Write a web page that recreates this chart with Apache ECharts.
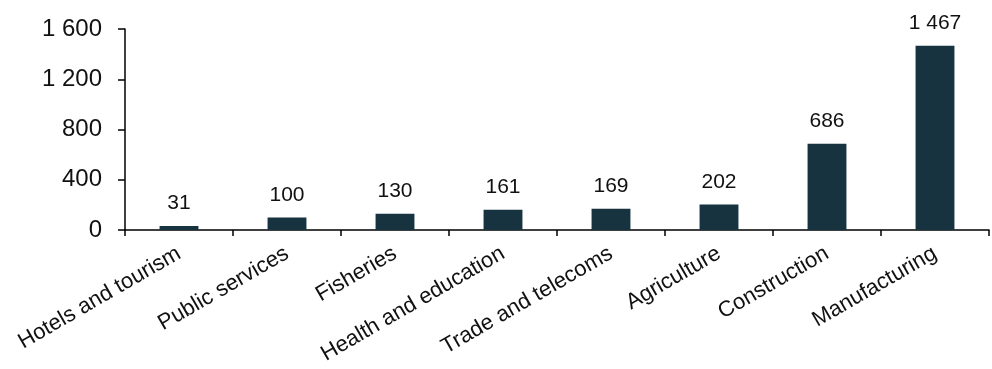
<!DOCTYPE html>
<html>
<head>
<meta charset="utf-8">
<script src="https://cdn.jsdelivr.net/npm/echarts@6/dist/echarts.min.js"></script>
<style>
  html, body { margin: 0; padding: 0; background: #fff; }
  #chart { width: 992px; height: 369px; }
</style>
</head>
<body>
<div id="chart"></div>
<script>
// Sectors and their values
const categories = [
  'Hotels and tourism', 'Public services', 'Fisheries', 'Health and education',
  'Trade and telecoms', 'Agriculture', 'Construction', 'Manufacturing'
];
const values = [31, 100, 130, 161, 169, 202, 686, 1467];
const yTicks = [0, 400, 800, 1200, 1600];

// Thousands separated with a space, e.g. 1 467
function fmt(v) {
  return String(v).replace(/\B(?=(\d{3})+(?!\d))/g, ' ');
}

const chart = echarts.init(document.getElementById('chart'), null, { renderer: 'canvas' });
const font = 'Liberation Sans, Arial, sans-serif';

chart.setOption({
  animation: false,
  grid: { left: 125, right: 3, top: 29, bottom: 139, containLabel: false },
  xAxis: {
    type: 'category',
    data: categories,
    axisLine: { lineStyle: { color: '#000', width: 1.5 } },
    axisTick: { show: true, length: 6, lineStyle: { color: '#000', width: 1.5 } },
    axisLabel: {
      rotate: 30,
      interval: 0,
      margin: 22,
      color: '#111',
      fontSize: 22,
      fontFamily: font
    }
  },
  yAxis: {
    type: 'value',
    min: yTicks[0],
    max: yTicks[yTicks.length - 1],
    interval: 400,
    splitLine: { show: false },
    axisLine: { show: true, lineStyle: { color: '#000', width: 1.5 } },
    axisTick: { show: true, length: 7, lineStyle: { color: '#000', width: 1.5 } },
    axisLabel: {
      margin: 23,
      color: '#111',
      fontSize: 24,
      fontFamily: font,
      formatter: fmt
    }
  },
  series: [{
    type: 'bar',
    data: values,
    barWidth: '36%',
    itemStyle: { color: '#16333f' },
    label: {
      show: true,
      position: 'top',
      distance: 12,
      color: '#111',
      fontSize: 21,
      fontFamily: font,
      formatter: p => fmt(p.value)
    }
  }]
});
</script>
</body>
</html>
